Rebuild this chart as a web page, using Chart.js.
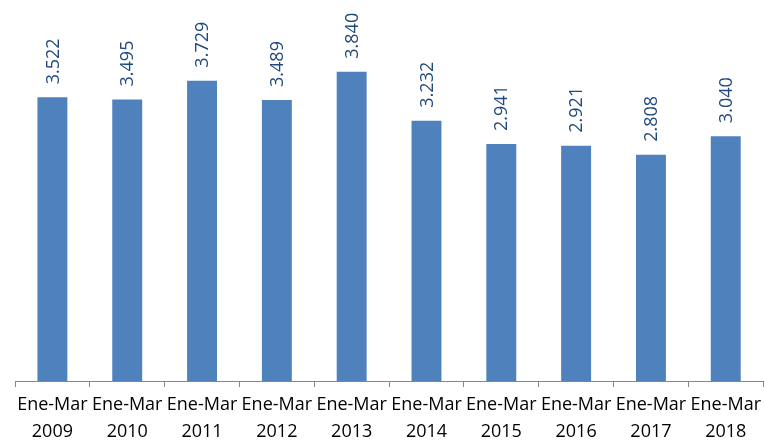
<!DOCTYPE html>
<html>
<head>
<meta charset="utf-8">
<script src="https://cdn.jsdelivr.net/npm/chart.js@4"></script>
<style>
  html, body { margin: 0; padding: 0; background: #fff; }
  #wrap { width: 765px; height: 441px; }
</style>
</head>
<body>
<div id="wrap"><canvas id="c"></canvas></div>
<script>
// periodos y valores (miles)
var periods = ['Ene-Mar', 'Ene-Mar', 'Ene-Mar', 'Ene-Mar', 'Ene-Mar', 'Ene-Mar', 'Ene-Mar', 'Ene-Mar', 'Ene-Mar', 'Ene-Mar'];
var years = ['2009', '2010', '2011', '2012', '2013', '2014', '2015', '2016', '2017', '2018'];
var values = [3522, 3495, 3729, 3489, 3840, 3232, 2941, 2921, 2808, 3040];

var labels = [];
for (var i = 0; i < years.length; i++) {
  labels.push([periods[i], years[i]]);
}

function fmt(v) {
  return String(v).replace(/\B(?=(\d{3})+(?!\d))/g, '.');
}

//draws the rotated value above each bar
var valueLabels = {
  id: 'valueLabels',
  afterDatasetsDraw: function(chart) {
    var ctx = chart.ctx;
    var meta = chart.getDatasetMeta(0);
    ctx.save();
    ctx.fillStyle = '#1F497D';
    ctx.font = '18px "Open Sans", sans-serif';
    ctx.textAlign = 'left';
    ctx.textBaseline = 'middle';
    meta.data.forEach(function(bar, idx) {
      ctx.save();
      ctx.translate(bar.x + 1, bar.y - 13);
      ctx.rotate(-Math.PI / 2);
      ctx.fillText(fmt(values[idx]), 0, 0);
      ctx.restore();
    });
    ctx.restore();
  }
};

new Chart(document.getElementById('c'), {
  type: 'bar',
  data: {
    labels: labels,
    datasets: [{
      data: values,
      backgroundColor: '#4F81BD',
      borderWidth: 0,
      barPercentage: 0.4,
      categoryPercentage: 1
    }]
  },
  options: {
    responsive: true,
    maintainAspectRatio: false,
    animation: false,
    layout: { padding: { left: 15, right: 0, top: 0, bottom: -8 } },
    plugins: {
      legend: { display: false },
      tooltip: { enabled: false }
    },
    scales: {
      y: {
        display: false,
        min: 0,
        max: 4730
      },
      x: {
        border: { display: true, color: '#868686', width: 1 },
        grid: {
          display: true,
          drawOnChartArea: false,
          drawTicks: true,
          tickLength: 6,
          color: '#868686',
          offset: true
        },
        ticks: {
          color: '#000',
          font: { family: '"Open Sans", sans-serif', size: 18, lineHeight: 1.5 },
          padding: 4,
          maxRotation: 0,
          autoSkip: false
        }
      }
    }
  },
  plugins: [valueLabels]
});
</script>
</body>
</html>
